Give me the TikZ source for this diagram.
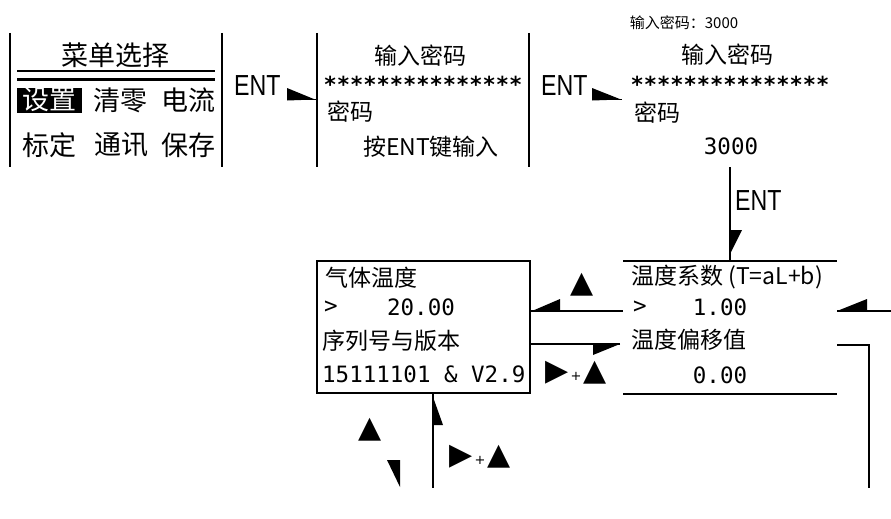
\documentclass[tikz,border=0pt]{standalone}
\usepackage{fontspec}
\setmainfont{Liberation Sans}
\newfontfamily\cjkf{Noto Sans CJK SC}
\newfontfamily\monof{DejaVu Sans Mono}
\newfontfamily\symf{DejaVu Sans}
\tikzset{
  ln/.style={line width=1.8pt},
  cn/.style={font=\cjkf\fontsize{23}{27}\selectfont, inner sep=0pt},
  cnbig/.style={font=\cjkf\fontsize{27}{30}\selectfont, inner sep=0pt},
  cnsmall/.style={font=\cjkf\fontsize{15}{17}\selectfont, inner sep=0pt},
  monotxt/.style={font=\monof\fontsize{22.5}{26}\selectfont, inner sep=0pt},
  stars/.style={font=\monof\bfseries\fontsize{22}{26}\selectfont, inner sep=0pt},
  enttxt/.style={font=\fontsize{29}{32}\selectfont, inner sep=0pt},
  keysym/.style={font=\symf\fontsize{30}{32}\selectfont, inner sep=0pt},
  harp/.style={fill=black, draw=none}
}
\newcommand{\entlabel}{\scalebox{0.8}[1]{ENT}}
\newcommand{\plusmark}{{\fontsize{13}{13}\selectfont\,+\,}}
\begin{document}
\begin{tikzpicture}[x=1pt,y=-1pt]
\useasboundingbox[fill=white] (0,0) rectangle (891,519);

% ---------- screen 1: menu ----------
\coordinate (m1tl) at (10,33);  \coordinate (m1bl) at (10,167);
\coordinate (m1tr) at (222,33); \coordinate (m1br) at (222,167);
\draw[ln] (m1tl) -- (m1bl);
\draw[ln] (m1tr) -- (m1br);
\node[cnbig] (menutitle) at (115,55) {菜单选择};
\coordinate (d1a) at (17,71); \coordinate (d1b) at (215,71);
\coordinate (d2a) at (17,79); \coordinate (d2b) at (215,79);
\draw[line width=1.6pt] (d1a) -- (d1b);
\draw[line width=3pt] (d2a) -- (d2b);
\fill[black] (17,88) rectangle (82,113);
\node[cnbig, text=white] (mset) at (49.5,100) {设置};
\node[cnbig] (mzero) at (120,100) {清零};
\node[cnbig] (mcur) at (188,100) {电流};
\node[cnbig] (mcal) at (50,145) {标定};
\node[cnbig] (mcom) at (121,145) {通讯};
\node[cnbig] (msave) at (188,145) {保存};

% ---------- ENT arrow 1 ----------
\node[enttxt, anchor=west] (ent1) at (234,86) {\entlabel};
\coordinate (a1s) at (287,99.5);
\coordinate (a1e) at (317,99.5);
\draw[ln] (a1s) -- (a1e);
\fill[harp] (287,88) -- (315,99.5) -- (287,100.5) -- cycle;

% ---------- screen 2: password ----------
\coordinate (p1tl) at (317,33);  \coordinate (p1bl) at (317,167);
\coordinate (p1tr) at (529,33);  \coordinate (p1br) at (529,167);
\draw[ln] (p1tl) -- (p1bl);
\draw[ln] (p1tr) -- (p1br);
\node[cn] (pw1title) at (420,56) {输入密码};
\node[stars] (pw1stars) at (423,84) {***************};
\node[cn, anchor=west] (pw1label) at (327,112) {密码};
\node[cn] (pw1hint) at (431,147) {按ENT键输入};

% ---------- ENT arrow 2 ----------
\node[enttxt, anchor=west] (ent2) at (541,86) {\entlabel};
\coordinate (a2s) at (592,99.5);
\coordinate (a2e) at (622,99.5);
\draw[ln] (a2s) -- (a2e);
\fill[harp] (592,88) -- (621,99.5) -- (592,100.5) -- cycle;

% ---------- screen 3: password entered ----------
\node[cnsmall] (pwnote) at (684,23) {输入密码：3000};
\node[cn] (pw2title) at (727,55) {输入密码};
\node[stars] (pw2stars) at (730,84) {***************};
\node[cn, anchor=west] (pw2label) at (634,113) {密码};
\node[monotxt] (pw2val) at (731,146) {3000};

% ---------- ENT arrow 3 (down) ----------
\coordinate (a3s) at (730,167);
\coordinate (a3e) at (730,261);
\draw[ln] (a3s) -- (a3e);
\node[enttxt, anchor=west] (ent3) at (735,201) {\entlabel};
\fill[harp] (730,230) -- (742,230) -- (730,254) -- cycle;

% ---------- screen 4: temperature coefficient ----------
\coordinate (tc1) at (623,261); \coordinate (tc2) at (837,261);
\coordinate (tc3) at (623,394); \coordinate (tc4) at (837,394);
\draw[ln] (tc1) -- (tc2);
\draw[ln] (tc3) -- (tc4);
\node[cn, anchor=west] (tcoef) at (631,277) {温度系数 (T=aL+b)};
\node[monotxt, anchor=west] (tgt1) at (633,307) {>};
\node[monotxt] (tval1) at (720,307) {1.00};
\node[cn, anchor=west] (toff) at (631,340) {温度偏移值};
\node[monotxt] (tval2) at (720,375) {0.00};

% ---------- screen 5: gas temperature ----------
\draw[ln] (317,261) coordinate (gb1) rectangle (530,393) coordinate (gb2);
\node[cn, anchor=west] (gtemp) at (325,278) {气体温度};
\node[monotxt, anchor=west] (gtgt) at (324,307) {>};
\node[monotxt] (gval) at (421,307) {20.00};
\node[cn, anchor=west] (gser) at (322,341) {序列号与版本};
\node[monotxt, anchor=west] (gver) at (322,374) {15111101 \& V2.9};

% ---------- connectors between screens ----------
\coordinate (c1a) at (530,311); \coordinate (c1b) at (623,311);
\draw[ln] (c1a) -- (c1b);
\fill[harp] (532,311) -- (560,299) -- (560,311) -- cycle;
\node[keysym] (up1) at (582.5,285) {▲};

\coordinate (c2a) at (530,344); \coordinate (c2b) at (620,344);
\draw[ln] (c2a) -- (c2b);
\fill[harp] (593,344) -- (620,344) -- (593,355) -- cycle;
\node[keysym] (rp1) at (576,373) {▶\plusmark▲};

\coordinate (c3a) at (837,311); \coordinate (c3b) at (891,311);
\draw[ln] (c3a) -- (c3b);
\fill[harp] (837,311) -- (867,299) -- (867,311) -- cycle;

\coordinate (c4a) at (837,345); \coordinate (c4b) at (869,345);
\coordinate (c4c) at (869,488);
\draw[ln] (c4a) -- (c4b) -- (c4c);

\coordinate (c5a) at (433,393); \coordinate (c5b) at (433,488);
\draw[ln] (c5a) -- (c5b);
\fill[harp] (433,397) -- (443,425) -- (433,425) -- cycle;
\node[keysym] (rp2) at (480,457) {▶\plusmark▲};

\node[keysym] (up2) at (370,430) {▲};
\fill[harp] (387,460) -- (400,460) -- (400,487) -- cycle;
\end{tikzpicture}
\end{document}
